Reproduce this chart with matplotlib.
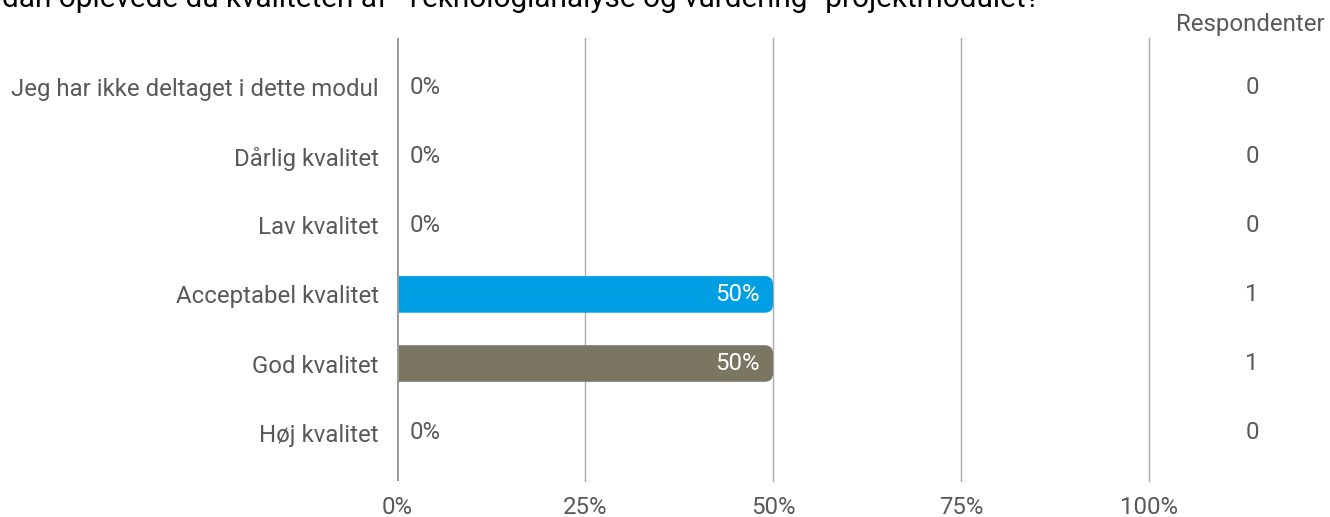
import matplotlib.pyplot as plt
from matplotlib.patches import FancyBboxPatch
import matplotlib.transforms as mtrans

plt.rcParams['font.family'] = ['Roboto', 'DejaVu Sans']

# data
kategorier = ['Jeg har ikke deltaget i dette modul', 'Dårlig kvalitet', 'Lav kvalitet',
              'Acceptabel kvalitet', 'God kvalitet', 'Høj kvalitet']
procent = [0, 0, 0, 50, 50, 0]
respondenter = [0, 0, 0, 1, 1, 0]
farver = ['#009FE3', '#009FE3', '#009FE3', '#009FE3', '#7A7662', '#009FE3']
xticks = [0, 25, 50, 75, 100]
titel = 'dan oplevede du kvaliteten af "Teknologianalyse og vurdering"-projektmodulet?'

W, H = 1330, 517
fig = plt.figure(figsize=(W / 100, H / 100), dpi=100)
ax = fig.add_axes([397 / W, (H - 481) / H, (1149 - 397) / W, (481 - 38) / H])

grey = '#595959'
fs = 17.3
y = list(range(len(kategorier)))
bars = ax.barh(y, procent, height=0.53, color='none')

# rounded right ends, left part clipped by the axes at 0
for b, c in zip(bars, farver):
    if b.get_width() <= 0:
        continue
    p = FancyBboxPatch((b.get_x() - 3, b.get_y()), b.get_width() + 3, b.get_height(),
                       boxstyle='round,pad=0,rounding_size=1.1',
                       mutation_aspect=0.109, fc=c, ec='none', zorder=2)
    ax.add_patch(p)

for yi, v in zip(y, procent):
    if v > 0:
        ax.text(v - 1.8, yi, f'{v}%', ha='right', va='center', color='white', fontsize=fs, zorder=3)
    else:
        ax.text(1.7, yi, f'{v}%', ha='left', va='center', color=grey, fontsize=fs)

ax.set_xlim(0, 100)
ax.set_ylim(len(kategorier) - 1 + 0.7, -0.71)
ax.set_xticks(xticks)
ax.set_xticklabels([f'{t}%' for t in xticks])
ax.set_yticks(y)
ax.set_yticklabels(kategorier)
ax.tick_params(axis='x', length=0, pad=11, labelsize=fs, labelcolor=grey)
ax.tick_params(axis='y', length=0, pad=13, labelsize=fs, labelcolor=grey)
for s in ax.spines.values():
    s.set_visible(False)
for t in xticks[1:]:
    ax.axvline(t, color='#ababab', lw=1, zorder=1, clip_on=False)
ax.axvline(0, color='#9a9a9a', lw=2.2, zorder=4)

# respondent column
trans = mtrans.blended_transform_factory(fig.transFigure, ax.transData)
for yi, n in zip(y, respondenter):
    ax.text(1252 / W, yi, str(n), transform=trans, ha='center', va='center', color=grey,
            fontsize=fs, clip_on=False)
fig.text(1325 / W, 1 - 25 / H, 'Respondenter', ha='right', va='center', color=grey, fontsize=fs)

# titlen er beskaaret i toppen ligesom i originalen
fig.text(2 / W, 1 - 7 / H, titel, ha='left', va='baseline', color='black', fontsize=21.4)

fig.savefig('out.png', dpi=100)
